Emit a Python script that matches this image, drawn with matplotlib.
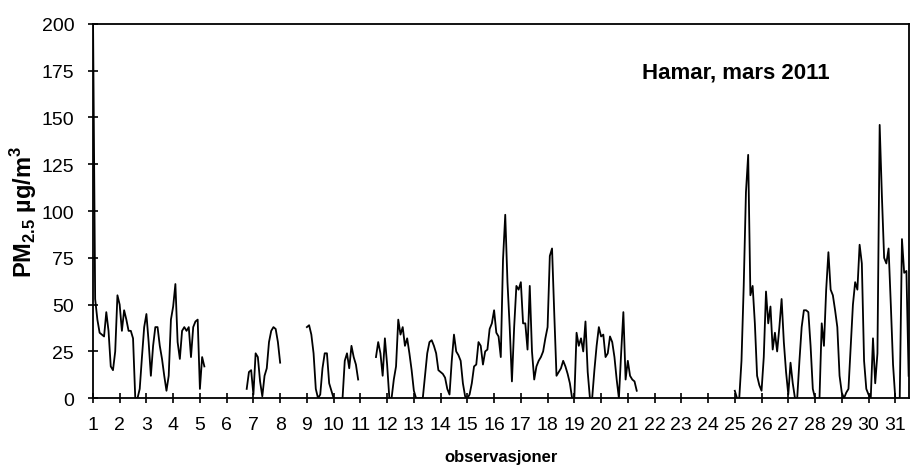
import numpy as np
import matplotlib.pyplot as plt

nan = np.nan

# PM2.5 (µg/m3), 2-hour values per day in March 2011: hours 00, 02, ..., 22
d01 = [210, 53, 42, 35, 34, 33, 46, 36, 17, 15, 25, 55]
d02 = [50, 36, 47, 42, 36, 36, 32, 0, 0, 5, 22, 38]
d03 = [45, 30, 12, 28, 38, 38, 28, 21, 12, 4, 12, 42]
d04 = [49, 61, 30, 21, 36, 38, 36, 38, 22, 38, 41, 42]
d05 = [5, 22, 17, nan, nan, nan, nan, nan, nan, nan, nan, nan]
d06 = [nan, nan, nan, nan, nan, nan, nan, nan, nan, 5, 14, 15]
d07 = [2, 24, 22, 9, 1, 12, 16, 30, 36, 38, 37, 30]
d08 = [19, nan, nan, nan, nan, nan, nan, nan, nan, nan, nan, nan]
d09 = [38, 39, 34, 24, 5, 0, 2, 16, 24, 24, 8, 4]
d10 = [0, nan, nan, nan, 0, 20, 24, 16, 28, 22, 18, 10]
d11 = [nan, nan, nan, nan, nan, nan, nan, 22, 30, 24, 12, 32]
d12 = [18, 0, 0, 10, 17, 42, 34, 38, 28, 32, 24, 15]
d13 = [4, 0, 0, 0, 0, 12, 24, 30, 31, 28, 24, 15]
d14 = [14, 13, 11, 5, 2, 20, 34, 25, 23, 20, 8, 1]
d15 = [0, 2, 8, 17, 18, 30, 28, 18, 25, 26, 37, 40]
d16 = [47, 35, 33, 22, 74, 98, 62, 38, 9, 38, 60, 58]
d17 = [62, 40, 40, 26, 60, 25, 10, 17, 20, 22, 25, 32]
d18 = [38, 76, 80, 45, 12, 14, 16, 20, 17, 13, 8, 0]
d19 = [0, 35, 28, 32, 25, 41, 14, 0, 0, 15, 28, 38]
d20 = [33, 34, 22, 24, 33, 30, 22, 10, 0, 24, 46, 10]
d21 = [20, 12, 10, 9, 4, nan, nan, nan, nan, nan, nan, nan]
d22 = [nan, nan, nan, nan, nan, nan, nan, nan, nan, nan, nan, nan]
d23 = [nan, nan, nan, nan, nan, nan, nan, nan, nan, nan, nan, nan]
d24 = [nan, nan, nan, nan, nan, nan, nan, nan, nan, nan, nan, nan]
d25 = [4, 0, 0, 20, 60, 110, 130, 55, 60, 40, 12, 7]
d26 = [4, 22, 57, 40, 49, 26, 35, 25, 38, 53, 30, 14]
d27 = [2, 19, 8, 0, 0, 20, 38, 47, 47, 46, 28, 5]
d28 = [0, 0, 0, 40, 28, 58, 78, 58, 55, 47, 38, 12]
d29 = [3, 0, 3, 5, 28, 50, 62, 58, 82, 72, 20, 5]
d30 = [2, 0, 32, 8, 24, 146, 108, 75, 72, 80, 50, 18]
d31 = [0, 0, 0, 85, 67, 68, 12]

days = [d01, d02, d03, d04, d05, d06, d07, d08, d09, d10, d11, d12, d13, d14, d15, d16,
        d17, d18, d19, d20, d21, d22, d23, d24, d25, d26, d27, d28, d29, d30, d31]

day_ticks = list(range(1, 32))
y_ticks = [0, 25, 50, 75, 100, 125, 150, 175, 200]

# time axis in days: day number + hour/24
x = []
pm = []
for i, vals in enumerate(days):
    for k, v in enumerate(vals):
        x.append(day_ticks[i] + 2 * k / 24)
        pm.append(v)
x = np.array(x)
pm = np.array(pm, dtype=float)

plt.rcParams["font.family"] = ["Liberation Sans", "DejaVu Sans"]
plt.rcParams["mathtext.fontset"] = "custom"
plt.rcParams["mathtext.rm"] = "Liberation Sans:bold"
plt.rcParams["mathtext.bf"] = "Liberation Sans:bold"

fig = plt.figure(figsize=(9.11, 4.77), dpi=100)
ax = fig.add_axes([0.102, 0.163, 0.896, 0.785])

ax.plot(x, pm, color="black", linewidth=1.3)

ax.set_xlim(1, 31.52)
ax.set_ylim(0, 200)
ax.set_xticks(day_ticks)
ax.set_yticks(y_ticks)
ax.tick_params(direction="inout", length=7, width=1.2, labelsize=14)
ax.tick_params(axis="x", pad=9)
ax.tick_params(axis="y", pad=10)
for side in ax.spines.values():
    side.set_linewidth(1.3)

ax.set_xlabel("observasjoner", fontsize=12, fontweight="bold", labelpad=12)
ax.set_ylabel(r"PM$_{2.5}$ µg/m$^{3}$", fontsize=17, fontweight="bold")
ax.yaxis.set_label_coords(-0.066, 0.5)
ax.text(0.787, 0.872, "Hamar, mars 2011", transform=ax.transAxes,
        fontsize=16, fontweight="bold", ha="center", va="center")

fig.savefig("out.png", dpi=100)
